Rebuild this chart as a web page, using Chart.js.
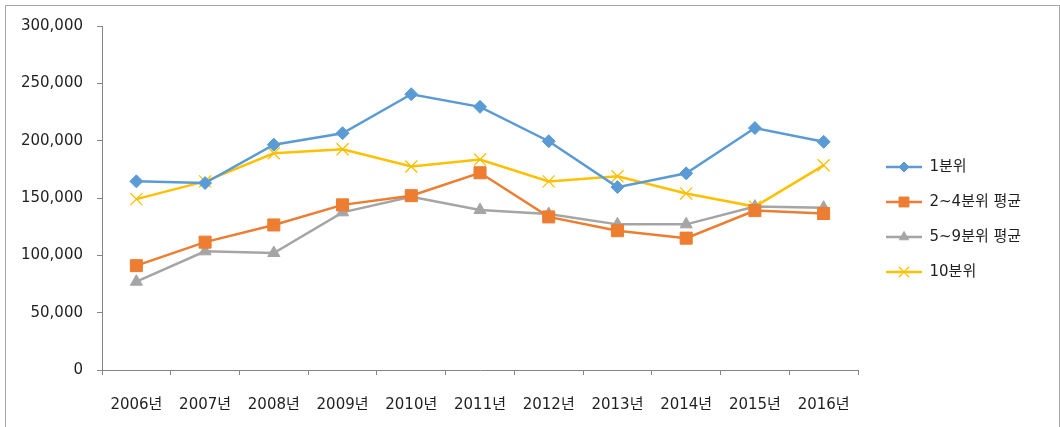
<!DOCTYPE html>
<html>
<head>
<meta charset="utf-8">
<script src="https://cdn.jsdelivr.net/npm/chart.js@4/dist/chart.umd.min.js"></script>
<style>
  html, body { margin: 0; padding: 0; background: #fff; }
  #wrap { position: relative; width: 1060px; height: 427px; }
  #frame { position: absolute; left: 5px; top: 5px; width: 1055px; height: 430px; border: 1px solid #a6a6a6; box-sizing: border-box; }
  canvas { position: absolute; left: 0; top: 0; }
</style>
</head>
<body>
<div id="wrap">
  <div id="frame"></div>
  <canvas id="chart" width="1060" height="427"></canvas>
</div>
<script>
// data
const years = ["2006년", "2007년", "2008년", "2009년", "2010년", "2011년", "2012년", "2013년", "2014년", "2015년", "2016년"];
const q1 = [164500, 163000, 196500, 206500, 240500, 229500, 199500, 159500, 171500, 211000, 199000];
const q2to4 = [91000, 111500, 126500, 144000, 152000, 172000, 133500, 121500, 115000, 139000, 136500];
const q5to9 = [77000, 103500, 102000, 137500, 151000, 139500, 136000, 127000, 127000, 142500, 141500];
const q10 = [149000, 164500, 189000, 192500, 177500, 183500, 164500, 169000, 154000, 142500, 178500];
const yTicks = [0, 50000, 100000, 150000, 200000, 250000, 300000];

const textColor = "#1f1f1f";
const axisColor = "#868686";
const fontFamily = "'DejaVu Sans', 'Noto Sans CJK KR', sans-serif";
const plotRight = 858;

// small picture for the legend: line with the marker in the middle
function legendIcon(color, style, radius, borderWidth) {
  const c = document.createElement("canvas");
  c.width = 44;
  c.height = 16;
  const g = c.getContext("2d");
  g.strokeStyle = color;
  g.fillStyle = color;
  g.lineWidth = 2.5;
  g.beginPath();
  g.moveTo(8, 8);
  g.lineTo(44, 8);
  g.stroke();
  g.lineWidth = borderWidth;
  Chart.helpers.drawPoint(g, { pointStyle: style, radius: radius, rotation: 0, borderWidth: borderWidth }, 26, 8);
  return c;
}

function series(label, data, color, style, radius, borderWidth) {
  return {
    label: label,
    data: data,
    borderColor: color,
    backgroundColor: color,
    borderWidth: 2.5,
    pointStyle: style,
    pointRadius: radius,
    pointHoverRadius: radius,
    pointBorderWidth: borderWidth,
    pointBackgroundColor: color,
    pointBorderColor: color,
    tension: 0,
    legendIcon: legendIcon(color, style, radius - 1.5, borderWidth)
  };
}

const datasets = [
  series("1분위", q1, "#5B9BD5", "rectRot", 6.5, 1),
  series("2~4분위 평균", q2to4, "#ED7D31", "rect", 8.5, 1),
  series("5~9분위 평균", q5to9, "#A5A5A5", "triangle", 7, 1),
  series("10분위", q10, "#FFC000", "crossRot", 8.5, 1.3)
];

const chart = new Chart(document.getElementById("chart"), {
  type: "line",
  data: { labels: years, datasets: datasets },
  options: {
    responsive: false,
    animation: false,
    devicePixelRatio: 1,
    layout: { padding: { top: 26, right: 27, bottom: 14, left: 0 } },
    plugins: {
      tooltip: { enabled: false },
      legend: {
        position: "right",
        align: "center",
        labels: {
          usePointStyle: true,
          pointStyleWidth: 44,
          padding: 20,
          color: textColor,
          font: { family: fontFamily, size: 15 },
          generateLabels: function (chart) {
            const items = Chart.defaults.plugins.legend.labels.generateLabels(chart);
            items.forEach((item) => {
              item.pointStyle = chart.data.datasets[item.datasetIndex].legendIcon;
            });
            return items;
          }
        }
      }
    },
    scales: {
      x: {
        offset: true,
        grid: { offset: true, drawOnChartArea: false, tickLength: 5, color: axisColor },
        border: { color: axisColor, width: 1 },
        ticks: { color: textColor, font: { family: fontFamily, size: 15 }, padding: 21, maxRotation: 0, autoSkip: false },
        afterFit: function (scale) { scale.height = 43; }
      },
      y: {
        min: 0,
        max: 300000,
        afterBuildTicks: function (scale) {
          scale.ticks = yTicks.map((v) => ({ value: v }));
        },
        grid: { drawOnChartArea: false, tickLength: 5, color: axisColor },
        border: { color: axisColor, width: 1 },
        ticks: { color: textColor, font: { family: fontFamily, size: 15 }, padding: 14 },
        afterFit: function (scale) { scale.width = 102; }
      }
    }
  }
});

// move the plot's right edge to where the reference has it
const shift = chart.chartArea.right - plotRight;
if (Math.abs(shift) > 0.5) {
  chart.options.layout.padding.right += shift;
  chart.update();
}
</script>
</body>
</html>
